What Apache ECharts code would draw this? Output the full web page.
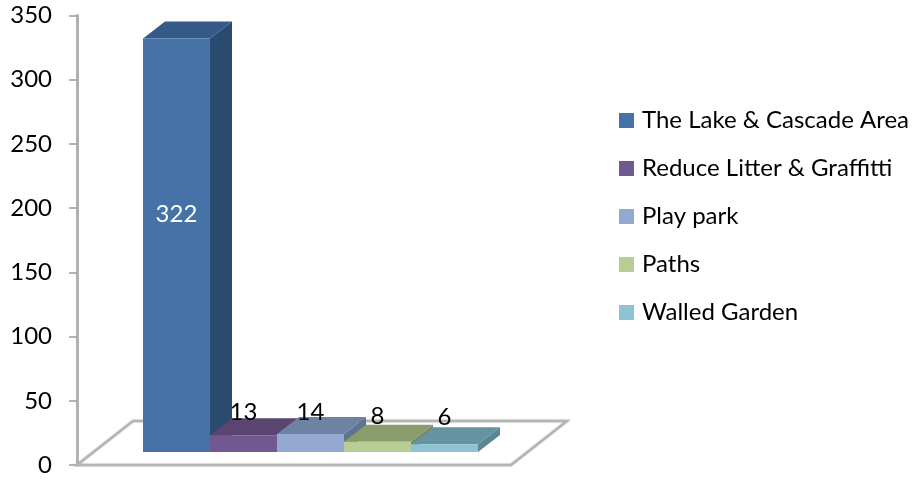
<!DOCTYPE html>
<html>
<head>
<meta charset="utf-8">
<style>html,body{margin:0;padding:0;background:#fff}#c{width:913px;height:482px}</style>
<script src="https://cdn.jsdelivr.net/npm/echarts@6/dist/echarts.min.js"></script>
</head>
<body>
<div id="c"></div>
<script>
const seriesNames = ['The Lake & Cascade Area', 'Reduce Litter & Graffitti', 'Play park', 'Paths', 'Walled Garden'];
const seriesValues = [322, 13, 14, 8, 6];
const yMax = 350;
const yStep = 50;

const frontColors = ['#4672A8', '#71588F', '#93A9CF', '#B8CD93', '#8DC3D5'];
const topColors = ['#355A87', '#5A4570', '#6E82A3', '#8A9C6C', '#66939F'];
const sideColors = ['#2B4A6F', '#4A3A5E', '#5F7290', '#76875C', '#5A8593'];

const FONT = 'Lato';
const BAR_W = 67, BAR_DX = 22, BAR_DY = -17;
const BASE_DX = 66, BASE_DY = -13;
const FLOOR_DX = 56, FLOOR_DY = -44;

function poly(points, fill, stroke, z2) {
  return {
    type: 'polygon', z2: z2 || 0,
    shape: { points: points },
    style: { fill: fill, stroke: stroke || null, lineWidth: stroke ? 1 : 0 }
  };
}

function renderFloor(params, api) {
  const a = api.coord([0, 0]);
  const left = params.coordSys.x, right = left + params.coordSys.width;
  return {
    type: 'polygon',
    shape: { points: [[left, a[1]], [left + FLOOR_DX, a[1] + FLOOR_DY], [right + FLOOR_DX, a[1] + FLOOR_DY], [right, a[1]]] },
    style: { fill: '#fff', stroke: '#B4B4B4', lineWidth: 2.5, shadowBlur: 2, shadowColor: 'rgba(0,0,0,0.2)' },
    silent: true
  };
}

function renderBar(i) {
  return function (params, api) {
    const left = params.coordSys.x;
    const zero = api.coord([0, 0]);
    const tip = api.coord([0, api.value(1)]);
    const x0 = left + BASE_DX + i * BAR_W, x1 = x0 + BAR_W;
    const yb = zero[1] + BASE_DY, yt = tip[1] + BASE_DY;
    return {
      type: 'group',
      children: [
        poly([[x1, yb], [x1 + BAR_DX, yb + BAR_DY], [x1 + BAR_DX, yt + BAR_DY], [x1, yt]], sideColors[i]),
        poly([[x0, yt], [x0 + BAR_DX, yt + BAR_DY], [x1 + BAR_DX, yt + BAR_DY], [x1, yt]], topColors[i]),
        poly([[x0, yb], [x1, yb], [x1, yt], [x0, yt]], frontColors[i]),
        {
          type: 'text', z2: 10,
          style: {
            x: (x0 + x1) / 2, y: (yb + yt) / 2 - 31,
            text: String(api.value(1)),
            fill: i === 0 ? '#fff' : '#000',
            font: '24px ' + FONT,
            align: 'center', verticalAlign: 'middle'
          }
        }
      ]
    };
  };
}

const chart = echarts.init(document.getElementById('c'), null, { renderer: 'canvas' });
chart.setOption({
  animation: false,
  backgroundColor: '#fff',
  textStyle: { fontFamily: FONT },
  grid: { left: 77, top: 15.5, width: 434, bottom: 17, containLabel: false },
  legend: {
    orient: 'vertical', left: 619, top: 108.5, padding: 0,
    icon: 'rect', itemWidth: 15, itemHeight: 15, itemGap: 24, selectedMode: false,
    data: seriesNames,
    textStyle: { fontFamily: FONT, fontSize: 24, color: '#000', padding: [0, 0, 0, 3] }
  },
  xAxis: {
    type: 'category', data: [''],
    axisLine: { show: false }, axisTick: { show: false }, axisLabel: { show: false }, splitLine: { show: false }
  },
  yAxis: {
    type: 'value', min: 0, max: yMax, interval: yStep,
    axisLine: { show: true, lineStyle: { color: '#B2B2B2', width: 3 } },
    axisTick: { show: true, length: 8, lineStyle: { color: '#9A9A9A', width: 1.5 } },
    axisLabel: { fontFamily: FONT, fontSize: 24, color: '#000', margin: 25 },
    splitLine: { show: false }
  },
  series: [
    { type: 'custom', name: '_floor', renderItem: renderFloor, data: [[0, 0]], silent: true, z: 1, clip: false }
  ].concat(seriesNames.map(function (n, i) {
    return {
      type: 'custom', name: n, renderItem: renderBar(i), data: [[0, seriesValues[i]]],
      itemStyle: { color: frontColors[i] }, encode: { x: 0, y: 1 }, z: 2, clip: false
    };
  }))
});
</script>
</body>
</html>
